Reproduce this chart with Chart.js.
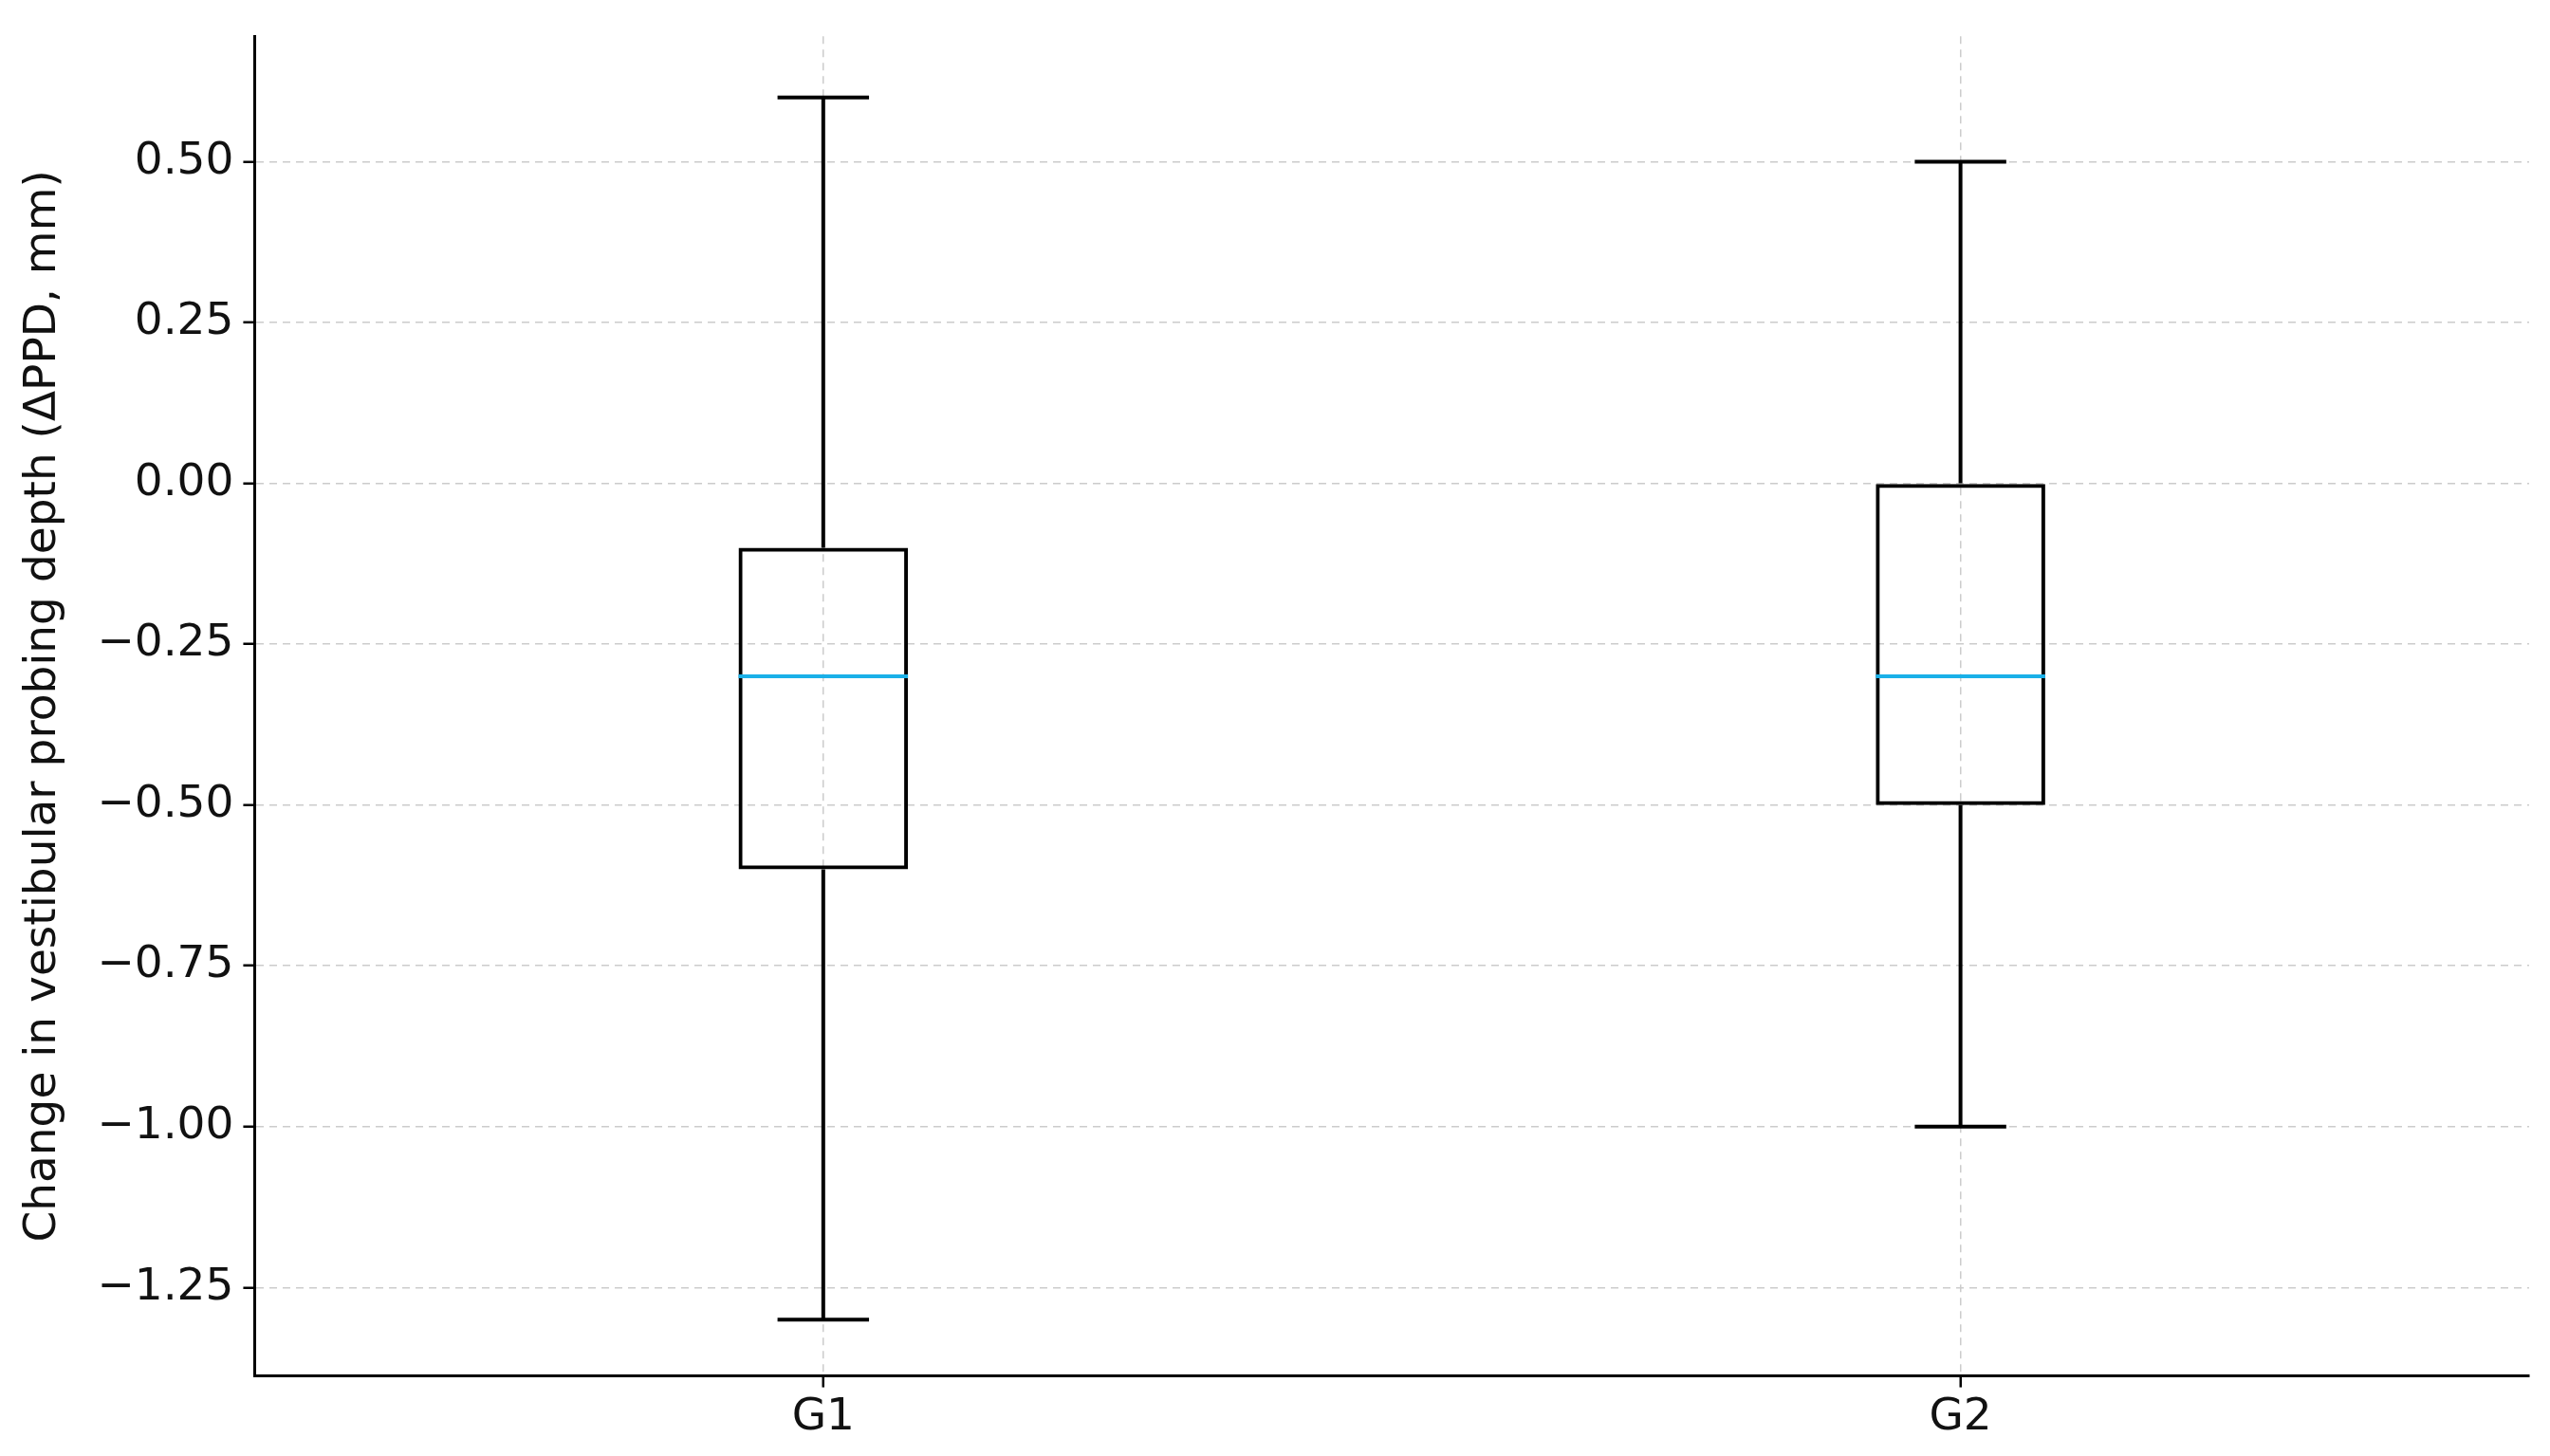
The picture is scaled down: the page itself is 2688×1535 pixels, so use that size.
<!DOCTYPE html>
<html>
<head>
<meta charset="utf-8">
<script src="https://cdn.jsdelivr.net/npm/chart.js@4"></script>
<style>
  html, body { margin: 0; padding: 0; background: #fff; }
  #wrap { width: 2688px; height: 1535px; }
</style>
</head>
<body>
<div id="wrap"><canvas id="chart"></canvas></div>
<script>
// box plot values per group
const groups = ['G1', 'G2'];
const whiskerLow = [-1.3, -1.0];
const q1 = [-0.6, -0.5];
const median = [-0.3, -0.3];
const q3 = [-0.1, 0.0];
const whiskerHigh = [0.6, 0.5];

const yTicks = [-1.25, -1.0, -0.75, -0.5, -0.25, 0, 0.25, 0.5];

// whiskers, caps and median lines, placed with the chart's own scales
const boxExtras = {
  id: 'boxExtras',
  afterDatasetsDraw(chart) {
    const ctx = chart.ctx;
    const x = chart.scales.x, y = chart.scales.y;
    const bars = chart.getDatasetMeta(0).data;
    ctx.save();
    groups.forEach((g, i) => {
      const cx = x.getPixelForValue(i);
      const half = bars[i].width / 2;
      const cap = half * 0.54;
      ctx.strokeStyle = '#000';
      ctx.lineWidth = 4;
      ctx.beginPath();
      ctx.moveTo(cx, y.getPixelForValue(q1[i]));
      ctx.lineTo(cx, y.getPixelForValue(whiskerLow[i]));
      ctx.moveTo(cx, y.getPixelForValue(q3[i]));
      ctx.lineTo(cx, y.getPixelForValue(whiskerHigh[i]));
      ctx.moveTo(cx - cap, y.getPixelForValue(whiskerLow[i]));
      ctx.lineTo(cx + cap, y.getPixelForValue(whiskerLow[i]));
      ctx.moveTo(cx - cap, y.getPixelForValue(whiskerHigh[i]));
      ctx.lineTo(cx + cap, y.getPixelForValue(whiskerHigh[i]));
      ctx.stroke();
      ctx.strokeStyle = '#1ab0e8';
      ctx.beginPath();
      ctx.moveTo(cx - half, y.getPixelForValue(median[i]));
      ctx.lineTo(cx + half, y.getPixelForValue(median[i]));
      ctx.stroke();
    });
    ctx.restore();
  }
};

new Chart(document.getElementById('chart'), {
  type: 'bar',
  data: {
    labels: groups,
    datasets: [{
      data: groups.map((g, i) => [q1[i], q3[i]]),
      backgroundColor: 'rgba(0,0,0,0)',
      borderColor: '#000',
      borderWidth: 4,
      borderSkipped: false,
      barPercentage: 0.149,
      categoryPercentage: 1
    }]
  },
  options: {
    responsive: true,
    maintainAspectRatio: false,
    animation: false,
    layout: { padding: { top: 26, right: 22, left: 14, bottom: 8 } },
    plugins: { legend: { display: false }, tooltip: { enabled: false } },
    scales: {
      x: {
        offset: true,
        grid: { offset: false, color: '#cccccc', lineWidth: 1.5, tickColor: '#000', tickLength: 12, tickWidth: 2.5, tickBorderDash: [] },
        border: { display: true, color: '#000', width: 3, dash: [8, 6] },
        ticks: { color: '#111', font: { family: 'DejaVu Sans', size: 47 }, padding: 4 }
      },
      y: {
        min: -1.3875,
        max: 0.695,
        afterBuildTicks(axis) { axis.ticks = yTicks.map(v => ({ value: v })); },
        grid: { color: '#cccccc', lineWidth: 1.5, tickColor: '#000', tickLength: 12, tickWidth: 2.5, tickBorderDash: [] },
        border: { display: true, color: '#000', width: 3, dash: [8, 6] },
        ticks: {
          color: '#111',
          font: { family: 'DejaVu Sans', size: 47 },
          padding: 10,
          callback: v => (v < 0 ? '\u2212' : '') + Math.abs(v).toFixed(2)
        },
        title: {
          display: true,
          text: 'Change in vestibular probing depth (\u0394PPD, mm)',
          color: '#111',
          font: { family: 'DejaVu Sans', size: 47 },
          padding: { bottom: 18 }
        }
      }
    }
  },
  plugins: [boxExtras]
});
</script>
</body>
</html>
